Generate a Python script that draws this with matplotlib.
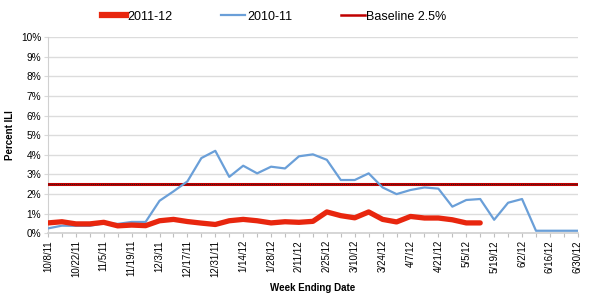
import matplotlib
matplotlib.use("Agg")
import matplotlib.pyplot as plt
from matplotlib.lines import Line2D
from matplotlib.ticker import FuncFormatter

plt.rcParams['font.family'] = ['Liberation Sans', 'DejaVu Sans']

weeks = ["10/8/11", "10/15/11", "10/22/11", "10/29/11", "11/5/11", "11/12/11", "11/19/11", "11/26/11",
         "12/3/11", "12/10/11", "12/17/11", "12/24/11", "12/31/11", "1/7/12", "1/14/12", "1/21/12",
         "1/28/12", "2/4/12", "2/11/12", "2/18/12", "2/25/12", "3/3/12", "3/10/12", "3/17/12",
         "3/24/12", "3/31/12", "4/7/12", "4/14/12", "4/21/12", "4/28/12", "5/5/12", "5/12/12",
         "5/19/12", "5/26/12", "6/2/12", "6/9/12", "6/16/12", "6/23/12", "6/30/12"]

season_2011_12 = [0.52, 0.58, 0.47, 0.47, 0.55, 0.37, 0.41, 0.38, 0.63, 0.70, 0.59, 0.51, 0.44,
                  0.63, 0.70, 0.63, 0.52, 0.58, 0.55, 0.60, 1.08, 0.89, 0.78, 1.08, 0.70, 0.57,
                  0.85, 0.77, 0.77, 0.68, 0.52, 0.52]
season_2010_11 = [0.24, 0.38, 0.37, 0.37, 0.50, 0.47, 0.57, 0.57, 1.65, 2.13, 2.64, 3.83, 4.20,
                  2.87, 3.44, 3.05, 3.39, 3.30, 3.92, 4.02, 3.74, 2.71, 2.71, 3.05, 2.33, 1.99,
                  2.20, 2.33, 2.27, 1.35, 1.69, 1.74, 0.68, 1.55, 1.74, 0.12, 0.12, 0.12, 0.12]
baseline = 2.5

fig = plt.figure(figsize=(6, 3), dpi=100)
ax = fig.add_axes([0.08, 0.223, 0.883, 0.653])

x_all = list(range(len(weeks)))
ax.axhline(baseline, color="#c00000", lw=2.2, zorder=3)
ax.axhline(baseline, color="#222222", lw=0.7, ls=(0, (1, 1)), zorder=4)
ax.plot(range(len(season_2010_11)), season_2010_11, color="#6a9fd8", lw=1.6, zorder=5)
ax.plot(range(len(season_2011_12)), season_2011_12, color="#e8260e", lw=3.8, zorder=6,
        solid_capstyle="round", solid_joinstyle="round")

ax.set_xlim(0, len(weeks) - 1)
ax.set_ylim(0, 10)
ax.set_yticks(range(0, 11))
ax.yaxis.set_major_formatter(FuncFormatter(lambda v, p: f"{int(v)}%"))
ax.set_xticks(x_all)
ax.set_xticklabels([w if i % 2 == 0 else "" for i, w in enumerate(weeks)], rotation=90)
ax.tick_params(axis="x", length=3, color="#bfbfbf", labelsize=7, pad=2)
ax.tick_params(axis="y", length=3, color="#d9d9d9", labelsize=7.3, pad=2)
ax.grid(axis="y", color="#dcdcdc", lw=1.0)
ax.set_axisbelow(True)
for s in ["top", "right"]:
    ax.spines[s].set_visible(False)
ax.spines["left"].set_color("#d0d0d0")
ax.spines["bottom"].set_color("#d0d0d0")
ax.spines["bottom"].set_linewidth(1.2)

ax.set_ylabel("Percent ILI", fontsize=7, fontweight="bold", labelpad=4)
ax.set_xlabel("Week Ending Date", fontsize=7, fontweight="bold", labelpad=4)

handles = [Line2D([], [], color="#e8260e", lw=4.5),
           Line2D([], [], color="#6a9fd8", lw=1.6),
           Line2D([], [], color="#c00000", lw=1.8)]
fig.legend(handles, ["2011-12", "2010-11", "Baseline 2.5%"], loc="center",
           bbox_to_anchor=(0.457, 0.945), ncol=3, frameon=False, fontsize=9,
           handlelength=1.9, handletextpad=0.15, columnspacing=3.9)

fig.savefig("out.png", dpi=100)
